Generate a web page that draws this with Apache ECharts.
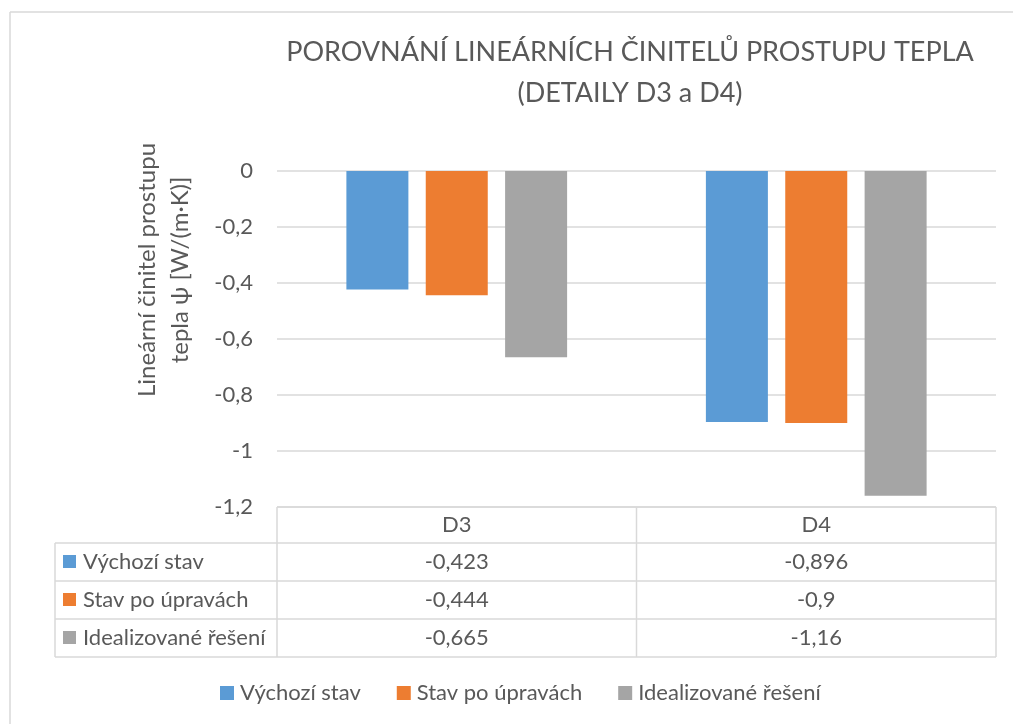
<!DOCTYPE html>
<html>
<head>
<meta charset="utf-8">
<script src="https://cdn.jsdelivr.net/npm/echarts@6/dist/echarts.min.js"></script>
<style>
html,body{margin:0;padding:0;background:#fff;}
#c{width:1013px;height:724px;}
</style>
</head>
<body>
<div id="c"></div>
<script>
const categories = ['D3', 'D4'];
const seriesNames = ['Výchozí stav', 'Stav po úpravách', 'Idealizované řešení'];
const vychozi = [-0.423, -0.896];
const poUpravach = [-0.444, -0.9];
const idealizovane = [-0.665, -1.16];
const yTicks = [0, -0.2, -0.4, -0.6, -0.8, -1, -1.2];
const titleLines = ['POROVNÁNÍ LINEÁRNÍCH ČINITELŮ PROSTUPU TEPLA', '(DETAILY D3 a D4)'];
const yAxisName = ['Lineární činitel prostupu', 'tepla ψ [W/(m·K)]'];

const colors = ['#5B9BD5', '#ED7D31', '#A5A5A5'];
const seriesData = [vychozi, poUpravach, idealizovane];
const FONT = 'Lato, "Open Sans", sans-serif';
const TXT = '#595959';
const LINE = '#D9D9D9';

const fmt = v => String(+(+v).toFixed(3)).replace('.', ',');

// layout constants
const L = 277, R = 996, TOP = 171, BOT = 507;
const tableLeft = 55;
const rowLines = [507, 543, 581, 619, 657];
const MID = (L + R) / 2;
const colMid = [(L + MID) / 2, (MID + R) / 2];

const chart = echarts.init(document.getElementById('c'), null, {renderer: 'canvas'});

const graphic = [];
// outer chart border (top & left visible)
graphic.push({type: 'line', shape: {x1: 10, y1: 12, x2: 1013, y2: 12}, style: {stroke: LINE, lineWidth: 1.5}});
graphic.push({type: 'line', shape: {x1: 10, y1: 12, x2: 10, y2: 724}, style: {stroke: LINE, lineWidth: 1.5}});
// y axis name
graphic.push({type: 'text', x: 164, y: 270, rotation: Math.PI / 2,
  style: {text: yAxisName.join('\n'), font: '24px ' + FONT, fill: TXT, align: 'center', verticalAlign: 'middle', lineHeight: 33}});
// table lines
graphic.push({type: 'line', shape: {x1: L, y1: rowLines[0], x2: R, y2: rowLines[0]}, style: {stroke: LINE, lineWidth: 1.5}});
for (let i = 1; i < rowLines.length; i++) {
  graphic.push({type: 'line', shape: {x1: tableLeft, y1: rowLines[i], x2: R, y2: rowLines[i]}, style: {stroke: LINE, lineWidth: 1.5}});
}
graphic.push({type: 'line', shape: {x1: tableLeft, y1: rowLines[1], x2: tableLeft, y2: rowLines[4]}, style: {stroke: LINE, lineWidth: 1.5}});
[L, MID, R].forEach(x => {
  graphic.push({type: 'line', shape: {x1: x, y1: rowLines[0], x2: x, y2: rowLines[4]}, style: {stroke: LINE, lineWidth: 1.5}});
});
// table rows
seriesNames.forEach((name, r) => {
  const cy = (rowLines[r + 1] + rowLines[r + 2]) / 2;
  graphic.push({type: 'rect', shape: {x: 63, y: cy - 7, width: 13, height: 13}, style: {fill: colors[r]}});
  graphic.push({type: 'text', x: 83, y: cy, style: {text: name, font: '22px ' + FONT, fill: TXT, align: 'left', verticalAlign: 'middle'}});
  seriesData[r].forEach((v, c) => {
    graphic.push({type: 'text', x: colMid[c], y: cy, style: {text: fmt(v), font: '22px ' + FONT, fill: TXT, align: 'center', verticalAlign: 'middle'}});
  });
});

const option = {
  animation: false,
  color: colors,
  textStyle: {fontFamily: FONT},
  title: {
    text: titleLines.join('\n'),
    left: 625, top: 27, textAlign: 'center',
    textStyle: {fontFamily: FONT, fontSize: 27, fontWeight: 'normal', color: TXT, lineHeight: 41}
  },
  legend: {
    left: 220, top: 682, padding: 0,
    itemWidth: 14, itemHeight: 14, itemGap: 36,
    icon: 'rect',
    textStyle: {fontFamily: FONT, fontSize: 22, color: TXT, padding: [0, 0, 0, 1]},
    data: seriesNames
  },
  grid: {left: L, right: 1013 - R, top: TOP, bottom: 724 - BOT, containLabel: false},
  xAxis: {
    type: 'category', data: categories,
    axisLine: {show: false}, axisTick: {show: false},
    axisLabel: {fontSize: 22, color: TXT, margin: 7, fontFamily: FONT}
  },
  yAxis: {
    type: 'value', min: -1.2, max: 0, interval: 0.2,
    axisLine: {show: false}, axisTick: {show: false},
    splitLine: {lineStyle: {color: LINE, width: 1.5}},
    axisLabel: {fontSize: 22, color: TXT, margin: 24, fontFamily: FONT, formatter: v => fmt(v)}
  },
  series: seriesNames.map((n, i) => ({
    name: n, type: 'bar', data: seriesData[i],
    barWidth: 62, barGap: '28%',
    itemStyle: {color: colors[i]}
  })),
  graphic: graphic
};
chart.setOption(option);
</script>
</body>
</html>
